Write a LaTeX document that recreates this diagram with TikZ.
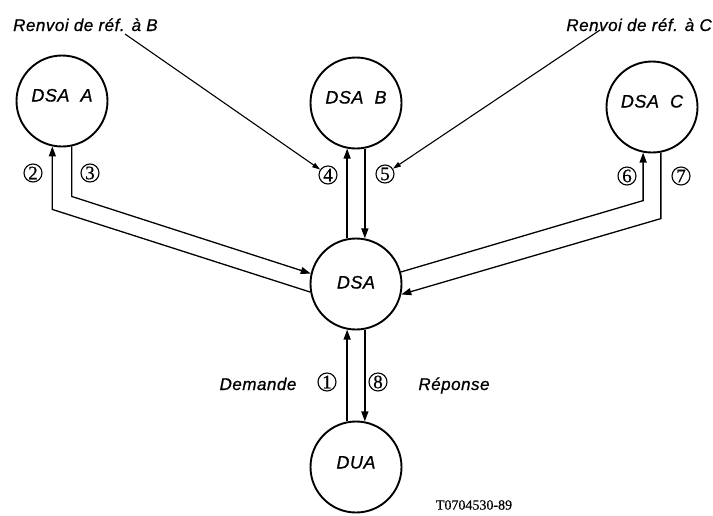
\documentclass[tikz,border=0pt]{standalone}
\usepackage{fontspec}
\setmainfont{Liberation Serif}
\newfontfamily\diagfont[LetterSpace=3, FakeBold=0.8]{Liberation Sans}
\newfontfamily\numfont[FakeBold=0.6]{Liberation Serif}
\usetikzlibrary{arrows.meta, positioning, calc}

\begin{document}
\begin{tikzpicture}[x=1pt, y=-1pt,
    dsabox/.style={circle, draw, line width=1.9pt, minimum size=91pt, inner sep=0pt,
        font=\diagfont\itshape\fontsize{18}{20}\selectfont, text height=13pt, text depth=12pt},
    numbox/.style={circle, draw, line width=1.1pt, minimum size=18pt, inner sep=0pt,
        font=\numfont\fontsize{19}{19}\selectfont},
    flow/.style={line width=1.3pt, -{Triangle[length=10pt,width=7pt]}},
    lead/.style={line width=1.1pt, -{Triangle[length=8pt,width=5pt]}},
    caption/.style={font=\diagfont\itshape\fontsize{17}{20}\selectfont, inner sep=0pt}]
    \useasboundingbox (0,0) rectangle (713,515);

    % DSAs and DUA
    \node[dsabox] (dsaA) at (62,101) {DSA\ \ A};
    \node[dsabox] (dsaB) at (356,103) {DSA\ \ B};
    \node[dsabox] (dsaC) at (652,107) {DSA\ \ C};
    \node[dsabox, text depth=4pt] (dsa) at (356,284) {DSA};
    \node[dsabox, text depth=10pt] (dua) at (356,467) {DUA};

    % Bends
    \coordinate (bend2) at ($(dsaA.258)+(0,63)$);
    \coordinate (bend3) at ($(dsaA.282)+(0,50)$);
    \coordinate (bend6) at ($(dsaC.259)+(0,48)$);
    \coordinate (bend7) at ($(dsaC.281)+(0,66)$);

    % Flows
    \draw[flow] (dua.101) -- (dsa.259);
    \draw[flow] (dsa.190) -- (bend2) -- (dsaA.258);
    \draw[flow] (dsaA.282) -- (bend3) -- (dsa.167);
    \draw[flow] (dsa.101) -- (dsaB.259);
    \draw[flow] (dsaB.281) -- (dsa.79);
    \draw[flow] (dsa.15) -- (bend6) -- (dsaC.259);
    \draw[flow] (dsaC.281) -- (bend7) -- (dsa.347);
    \draw[flow] (dsa.281) -- (dua.79);

    % Step numbers
    \node[numbox] (n1) at (327,382) {1};
    \node[numbox] (n2) at (33,173) {2};
    \node[numbox] (n3) at (90,173) {3};
    \node[numbox] (n4) at (328,175) {4};
    \node[numbox] (n5) at (385,174) {5};
    \node[numbox] (n6) at (627,176) {6};
    \node[numbox] (n7) at (681,176) {7};
    \node[numbox] (n8) at (378,382) {8};

    % Labels
    \node[caption, anchor=base west] (refB) at (13,31) {Renvoi de réf. à B};
    \node[caption, anchor=base east] (refC) at (712,31) {Renvoi de réf. à C};
    \node[caption, anchor=base] (req) at (258,390) {Demande};
    \node[caption, anchor=base] (resp) at (454,390) {Réponse};
    \node[font=\numfont\fontsize{14}{14}\selectfont] (code) at (474,505) {T0704530-89};

    % Referrals
    \coordinate (fromB) at (125,34);
    \coordinate (fromC) at (600,30);
    \draw[lead] (fromB) -- (n4);
    \draw[lead] (fromC) -- (n5);
\end{tikzpicture}
\end{document}
